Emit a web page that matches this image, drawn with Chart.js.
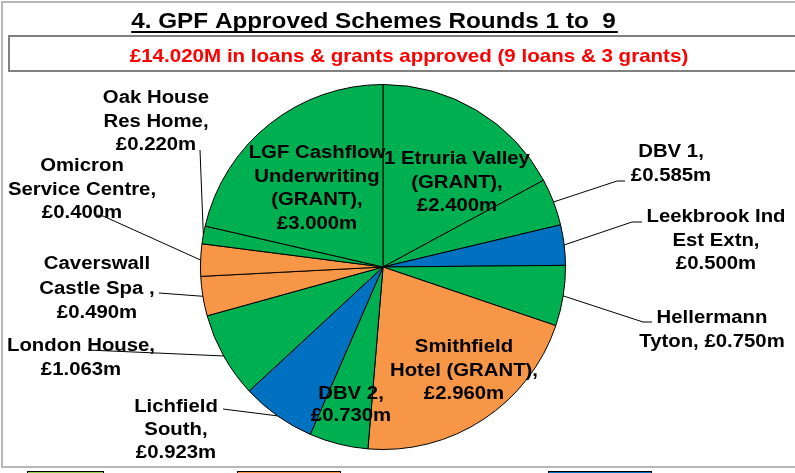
<!DOCTYPE html>
<html><head><meta charset="utf-8">
<script src="https://cdn.jsdelivr.net/npm/chart.js@4.4.1/dist/chart.umd.min.js"></script>
<style>html,body{margin:0;padding:0;background:#fff;overflow:hidden}canvas{display:block}</style>
</head><body>
<canvas id="c" width="795" height="473"></canvas>
<script>
// ---- data ----
const categories = ['Etruria Valley', 'DBV 1', 'Leekbrook Ind Est Extn', 'Hellermann Tyton',
  'Smithfield Hotel (GRANT)', 'DBV 2', 'Lichfield South', 'London House',
  'Caverswall Castle Spa', 'Omicron Service Centre', 'Oak House Res Home', 'LGF Cashflow Underwriting (GRANT)'];
const values = [2.400, 0.585, 0.500, 0.750, 2.960, 0.730, 0.923, 1.063, 0.490, 0.400, 0.220, 3.000];
const colourGroups = ['green', 'green', 'blue', 'green', 'orange', 'green', 'blue', 'green', 'orange', 'orange', 'green', 'green'];
const labelLines = [
  ['1 Etruria Valley', '(GRANT),', '{v}'],
  ['DBV 1,', '{v}'],
  ['Leekbrook Ind', 'Est Extn,', '{v}'],
  ['Hellermann', 'Tyton, {v}'],
  ['Smithfield', 'Hotel (GRANT),', '{v}'],
  ['DBV 2,', '{v}'],
  ['Lichfield', 'South,', '{v}'],
  ['London House,', '{v}'],
  ['Caverswall', 'Castle Spa ,', '{v}'],
  ['Omicron', 'Service Centre,', '{v}'],
  ['Oak House', 'Res Home,', '{v}'],
  ['LGF Cashflow', 'Underwriting', '(GRANT),', '{v}']
];
const titleText = '4. GPF Approved Schemes Rounds 1 to  9';
const subtitleText = '£14.020M in loans & grants approved (9 loans & 3 grants)';
const legendGroups = ['green', 'orange', 'blue'];

// ---- styles / layout ----
const palette = {green: '#00B050', orange: '#F79646', blue: '#0070C0'};
const legendPalette = {green: '#92D050', orange: '#F79646', blue: '#0070C0'};
const FONT = '"Liberation Sans", Arial, sans-serif';
const SX = 1.13;
const labelLayout = [
  {x: 457, y: 158},
  {x: 671, y: 151, lead: [[625, 181], [617, 181]]},
  {x: 716, y: 216, lead: [[642, 222], [632, 222]]},
  {x: 712, y: 317, lead: [[652, 322], [643, 322]]},
  {x: 464, y: 346},
  {x: 351, y: 393, lh: 22},
  {x: 176, y: 406, lh: 23, lead: [[223, 409]]},
  {x: 81, y: 345, lead: [[88, 350]]},
  {x: 97, y: 263, lh: 24.5, lead: [[159, 293]]},
  {x: 82, y: 165, lead: [[97, 215], [103, 216]]},
  {x: 156, y: 97, lead: [[200, 150]]},
  {x: 317, y: 152}
];
const legendLayout = [[27, 104], [237, 341], [548, 652]];

function drawText(ctx, t, cx, cy, size, color, sx) {
  ctx.save();
  ctx.font = 'bold ' + size + 'px ' + FONT;
  ctx.fillStyle = color;
  ctx.textAlign = 'center';
  ctx.textBaseline = 'alphabetic';
  ctx.translate(cx, cy + 0.358 * size);
  ctx.scale(sx, 1);
  ctx.fillText(t, 0, 0);
  const w = ctx.measureText(t).width * sx;
  ctx.restore();
  return w;
}

const decor = {
  id: 'decor',
  beforeDraw(chart) {
    const ctx = chart.ctx;
    ctx.save();
    ctx.fillStyle = '#fff';
    ctx.fillRect(0, 0, chart.width, chart.height);
    // outer frame
    ctx.strokeStyle = '#a0a0a0';
    ctx.lineWidth = 1.5;
    ctx.strokeRect(2, 2, 820, 465);
    // subtitle box
    ctx.strokeStyle = '#808080';
    ctx.lineWidth = 2;
    ctx.strokeRect(9, 36, 820, 35);
    // legend swatches (cut off at bottom)
    legendGroups.forEach((g, i) => {
      const [a, b] = legendLayout[i];
      ctx.fillStyle = legendPalette[g];
      ctx.fillRect(a, 471, b - a, 10);
      ctx.strokeStyle = '#000';
      ctx.lineWidth = 1;
      ctx.strokeRect(a + 0.5, 471.5, b - a - 1, 10);
    });
    ctx.restore();
    // title
    const tw = drawText(ctx, titleText, 373.5, 20, 21.5, '#000', SX);
    ctx.save();
    ctx.fillStyle = '#000';
    ctx.fillRect(373.5 - tw / 2, 31, tw + 2, 2);
    ctx.restore();
    drawText(ctx, subtitleText, 409, 55, 18.2, '#FF0000', SX);
  },
  afterDatasetsDraw(chart) {
    const ctx = chart.ctx;
    const meta = chart.getDatasetMeta(0);
    meta.data.forEach((arc, i) => {
      const p = arc.getProps(['x', 'y', 'startAngle', 'endAngle', 'outerRadius'], true);
      const L = labelLayout[i];
      if (L.lead) {
        const mid = (p.startAngle + p.endAngle) / 2;
        const ex = p.x + Math.cos(mid) * p.outerRadius;
        const ey = p.y + Math.sin(mid) * p.outerRadius;
        ctx.save();
        ctx.strokeStyle = '#000';
        ctx.lineWidth = 1;
        ctx.beginPath();
        ctx.moveTo(L.lead[0][0], L.lead[0][1]);
        for (let k = 1; k < L.lead.length; k++) ctx.lineTo(L.lead[k][0], L.lead[k][1]);
        ctx.lineTo(ex, ey);
        ctx.stroke();
        ctx.restore();
      }
      const vt = '£' + values[i].toFixed(3) + 'm';
      const lh = L.lh || 23.5;
      labelLines[i].forEach((ln, k) => {
        drawText(ctx, ln.replace('{v}', vt), L.x, L.y + k * lh, 18, '#000', SX);
      });
    });
  }
};

new Chart(document.getElementById('c'), {
  type: 'pie',
  data: {
    labels: categories,
    datasets: [{
      data: values,
      backgroundColor: colourGroups.map(g => palette[g]),
      borderColor: '#000',
      borderWidth: 1,
      borderAlign: 'center'
    }]
  },
  options: {
    responsive: false,
    animation: false,
    layout: {padding: {top: 84, bottom: 23, left: 200, right: 229}},
    plugins: {legend: {display: false}, tooltip: {enabled: false}, title: {display: false}}
  },
  plugins: [decor]
});
</script>
</body></html>
